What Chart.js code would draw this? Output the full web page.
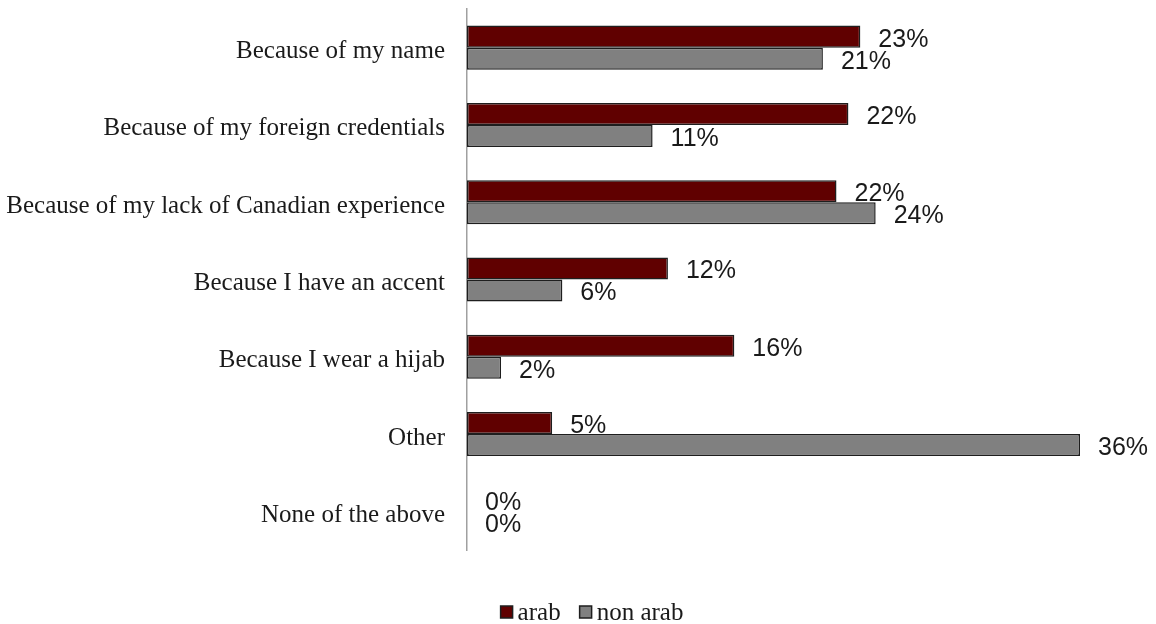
<!DOCTYPE html>
<html>
<head>
<meta charset="utf-8">
<script src="https://cdn.jsdelivr.net/npm/chart.js@4"></script>
<style>
  html, body { margin: 0; padding: 0; background: #fff; }
  #wrap { width: 1156px; height: 624px; position: relative; }
</style>
</head>
<body>
<div id="wrap"><canvas id="c" width="1156" height="624"></canvas></div>
<script>
const categories = [
  "Because of my name",
  "Because of my foreign credentials",
  "Because of my lack of Canadian experience",
  "Because I have an accent",
  "Because I wear a hijab",
  "Other",
  "None of the above"
];
const arabValues = [23.1, 22.4, 21.7, 11.8, 15.7, 5.0, 0];
const nonArabValues = [20.9, 10.9, 24.0, 5.6, 2.0, 36.0, 0];
const arabLabels = ["23%", "22%", "22%", "12%", "16%", "5%", "0%"];
const nonArabLabels = ["21%", "11%", "24%", "6%", "2%", "36%", "0%"];
const seriesNames = ["arab", "non arab"];

const SERIF = '"Liberation Serif", "Times New Roman", serif';
const SANS = '"Liberation Sans", Arial, sans-serif';

const valueLabelPlugin = {
  id: 'valueLabels',
  afterDatasetsDraw(chart) {
    const ctx = chart.ctx;
    const labelSets = [arabLabels, nonArabLabels];
    ctx.save();
    ctx.font = '25px ' + SANS;
    ctx.fillStyle = '#1a1a1a';
    ctx.textAlign = 'left';
    ctx.textBaseline = 'middle';
    chart.data.datasets.forEach((ds, di) => {
      const meta = chart.getDatasetMeta(di);
      meta.data.forEach((el, i) => {
        ctx.fillText(labelSets[di][i], el.x + 18, el.y + 3);
      });
    });
    ctx.restore();
  }
};

const bottomLegendPlugin = {
  id: 'bottomLegend',
  afterDraw(chart) {
    const ctx = chart.ctx;
    ctx.save();
    ctx.font = '25px ' + SERIF;
    ctx.textBaseline = 'middle';
    ctx.textAlign = 'left';
    const box = 12, gap = 5, spacing = 19;
    const items = chart.data.datasets.map(ds => ({
      text: ds.label, fill: ds.backgroundColor, w: ctx.measureText(ds.label).width
    }));
    let total = 0;
    items.forEach((it, i) => { total += box + gap + it.w + (i < items.length - 1 ? spacing : 0); });
    let x = 592 - total / 2;
    const cy = 612;
    items.forEach(it => {
      ctx.fillStyle = it.fill;
      ctx.fillRect(x, cy - 6, box, box);
      ctx.strokeStyle = '#1e1e1e';
      ctx.lineWidth = 1.5;
      ctx.strokeRect(x, cy - 6, box, box);
      ctx.fillStyle = '#1a1a1a';
      ctx.fillText(it.text, x + box + gap, cy + 1);
      x += box + gap + it.w + spacing;
    });
    ctx.restore();
  }
};

new Chart(document.getElementById('c'), {
  type: 'bar',
  data: {
    labels: categories,
    datasets: [
      {
        label: seriesNames[0],
        data: arabValues,
        backgroundColor: '#600000',
        borderColor: '#1e1e1e',
        borderWidth: 1.5,
        borderSkipped: false,
        categoryPercentage: 0.57,
        barPercentage: 1.0
      },
      {
        label: seriesNames[1],
        data: nonArabValues,
        backgroundColor: '#808080',
        borderColor: '#1e1e1e',
        borderWidth: 1.5,
        borderSkipped: false,
        categoryPercentage: 0.57,
        barPercentage: 1.0
      }
    ]
  },
  options: {
    indexAxis: 'y',
    responsive: false,
    animation: false,
    maintainAspectRatio: false,
    layout: { padding: { top: 9, right: 76, left: 0, bottom: 74 } },
    scales: {
      x: {
        display: false,
        min: 0,
        max: 36
      },
      y: {
        afterFit(scale) { scale.width = 467; scale.paddingTop = 0; scale.paddingBottom = 0; },
        grid: { display: false, drawTicks: false },
        border: { display: true, color: '#a0a0a0', width: 1.5 },
        ticks: {
          padding: 22,
          labelOffset: 4,
          color: '#1a1a1a',
          font: { family: SERIF, size: 25 }
        }
      }
    },
    plugins: {
      legend: { display: false },
      tooltip: { enabled: false }
    }
  },
  plugins: [valueLabelPlugin, bottomLegendPlugin]
});
</script>
</body>
</html>
